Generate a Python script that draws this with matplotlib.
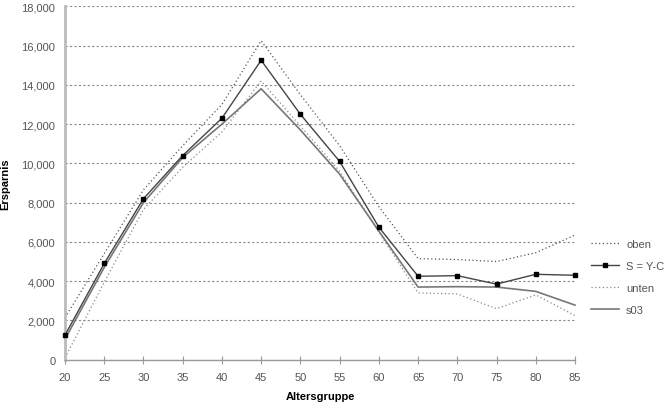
import matplotlib.pyplot as plt
from matplotlib.ticker import FuncFormatter

plt.rcParams['font.family'] = ['Liberation Sans', 'DejaVu Sans']

# Altersgruppen und Reihen
alter = [20, 25, 30, 35, 40, 45, 50, 55, 60, 65, 70, 75, 80, 85]
oben = [2150, 5400, 8650, 10900, 13000, 16250, 13500, 10900, 7800, 5150, 5100, 5000, 5450, 6350]
s_yc = [1250, 4900, 8200, 10400, 12300, 15250, 12500, 10100, 6750, 4250, 4280, 3850, 4350, 4300]
unten = [100, 3950, 7650, 9800, 11600, 14200, 11900, 9600, 6500, 3400, 3350, 2600, 3300, 2250]
s03 = [1050, 4700, 8000, 10300, 12000, 13800, 11700, 9450, 6550, 3700, 3720, 3700, 3480, 2780]

fig = plt.figure(figsize=(6.7, 4.06), dpi=100)
ax = fig.add_axes([65 / 670, 1 - 360.7 / 406, 510 / 670, 353.4 / 406])

ax.plot(alter, oben, color='#555555', lw=0.9, ls=(0, (1, 2)), label='oben', clip_on=False)
ax.plot(alter, s_yc, color='#444444', lw=1.0, marker='s', ms=3.3, mfc='black', mec='black',
        label='S = Y-C', clip_on=False, zorder=4)
ax.plot(alter, unten, color='#888888', lw=0.9, ls=(0, (1, 2)), label='unten', clip_on=False)
ax.plot(alter, s03, color='#777777', lw=1.2, label='s03', clip_on=False)

ax.set_xlim(20, 85)
ax.set_ylim(0, 18000)
ax.set_xticks(alter)
ax.set_yticks(range(0, 18001, 2000))
ax.yaxis.set_major_formatter(FuncFormatter(lambda v, p: f'{int(v):,}'))

ax.grid(axis='y', color='#8a8a8a', ls=(0, (2, 2)), lw=0.8)
ax.set_axisbelow(True)

for s in ['top', 'right']:
    ax.spines[s].set_visible(False)
ax.spines['left'].set_color('#bbbbbb')
ax.spines['left'].set_linewidth(2)
ax.spines['bottom'].set_color('#999999')
ax.spines['bottom'].set_linewidth(1)

ax.tick_params(axis='y', length=0, pad=7, labelsize=8, labelcolor='#555555')
ax.tick_params(axis='x', direction='inout', length=6, color='#999999', pad=6,
               labelsize=8, labelcolor='#555555')

ax.set_xlabel('Altersgruppe', fontsize=8, fontweight='bold', labelpad=6)
ax.set_ylabel('Ersparnis', fontsize=8, fontweight='bold', labelpad=8)

ax.legend(loc='upper left', bbox_to_anchor=(585 / 670, 1 - 234 / 406),
          bbox_transform=fig.transFigure, frameon=False, fontsize=8,
          handlelength=2.6, handletextpad=0.6, labelspacing=1.1,
          borderpad=0, labelcolor='#555555')

fig.savefig('out.png', dpi=100)
